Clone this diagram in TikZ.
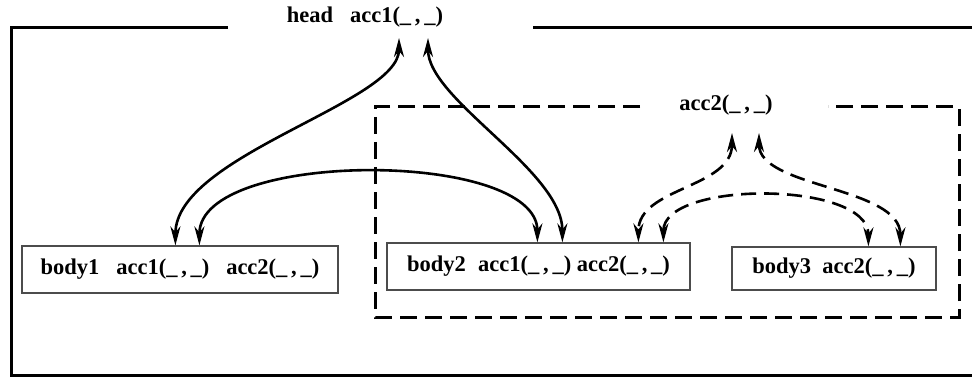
\documentclass[tikz,border=0pt]{standalone}
\usepackage{fontspec}
\setmainfont{Liberation Serif}
\usetikzlibrary{arrows.meta}
\begin{document}
\begin{tikzpicture}[x=1pt,y=-1pt,
  lbl/.style={font=\fontsize{22.5}{24}\selectfont\bfseries, inner sep=0pt},
  bodybox/.style={draw=black!70, line width=1.2pt, lbl, minimum height=45pt},
  tip/.tip={Stealth[length=19pt,width=10pt,inset=6pt]},
  arr/.style={line width=2.6pt, tip-tip},
  darr/.style={arr, dash pattern=on 15pt off 8pt},
  outerframe/.style={line width=3pt},
  dframe/.style={line width=3pt, dash pattern=on 17pt off 8pt}]
\useasboundingbox (0,0) rectangle (972,377);
% frames
\draw[outerframe] (228,28) -- (11,28) -- (11,375) -- (972,375);
\draw[outerframe] (533,28) -- (972,28);
\draw[dframe] (640,107) -- (375,107) -- (375,317) -- (959,317) -- (959,107) -- (828,107);
% labels
\node[lbl] (head) at (365,17) {head\hspace{0.75em}acc1(\_\,,\,\_)};
\node[lbl] (acc2) at (726,105) {acc2(\_\,,\,\_)};
% bodies
\node[bodybox, minimum width=316pt, minimum height=47pt] (body1) at (180,269.5) {body1\hspace{0.75em}acc1(\_\,,\,\_)\hspace{0.75em}acc2(\_\,,\,\_)};
\node[bodybox, minimum width=303pt, minimum height=47pt] (body2) at (538.5,266.5) {body2\hspace{0.55em}acc1(\_\,,\,\_) acc2(\_\,,\,\_)};
\node[bodybox, minimum width=204pt, minimum height=43pt] (body3) at (834,268.5) {body3\hspace{0.5em}acc2(\_\,,\,\_)};
% coordinates for arrow ends
\coordinate (hL) at ([xshift=34pt,yshift=-21pt]head.center);
\coordinate (hR) at ([xshift=63pt,yshift=-21pt]head.center);
\coordinate (aL) at ([xshift=6pt,yshift=-28pt]acc2.center);
\coordinate (aR) at ([xshift=33pt,yshift=-28pt]acc2.center);
\coordinate (b1a) at ([xshift=154pt]body1.north west);
\coordinate (b1b) at ([xshift=178pt]body1.north west);
\coordinate (b2a) at ([xshift=151pt]body2.north west);
\coordinate (b2b) at ([xshift=176pt]body2.north west);
\coordinate (b2c) at ([xshift=252pt]body2.north west);
\coordinate (b2d) at ([xshift=277pt]body2.north west);
\coordinate (b3a) at ([xshift=137pt]body3.north west);
\coordinate (b3b) at ([xshift=169pt]body3.north west);
% solid connectors
\draw[arr] (hL) .. controls ([yshift=-65pt]hL) and ([yshift=90pt]b1a) .. (b1a);
\draw[arr] (hR) .. controls ([yshift=-62pt]hR) and ([yshift=72pt]b2b) .. (b2b);
\draw[arr] (b1b) .. controls ([yshift=96pt]b1b) and ([yshift=93pt]b2a) .. (b2a);
% dashed connectors
\draw[darr] (aL) .. controls ([yshift=-55pt]aL) and ([yshift=55pt]b2c) .. (b2c);
\draw[darr] (aR) .. controls ([yshift=-55pt]aR) and ([yshift=60pt]b3b) .. (b3b);
\draw[darr] (b2d) .. controls ([yshift=62pt]b2d) and ([yshift=66pt]b3a) .. (b3a);
\end{tikzpicture}
\end{document}
